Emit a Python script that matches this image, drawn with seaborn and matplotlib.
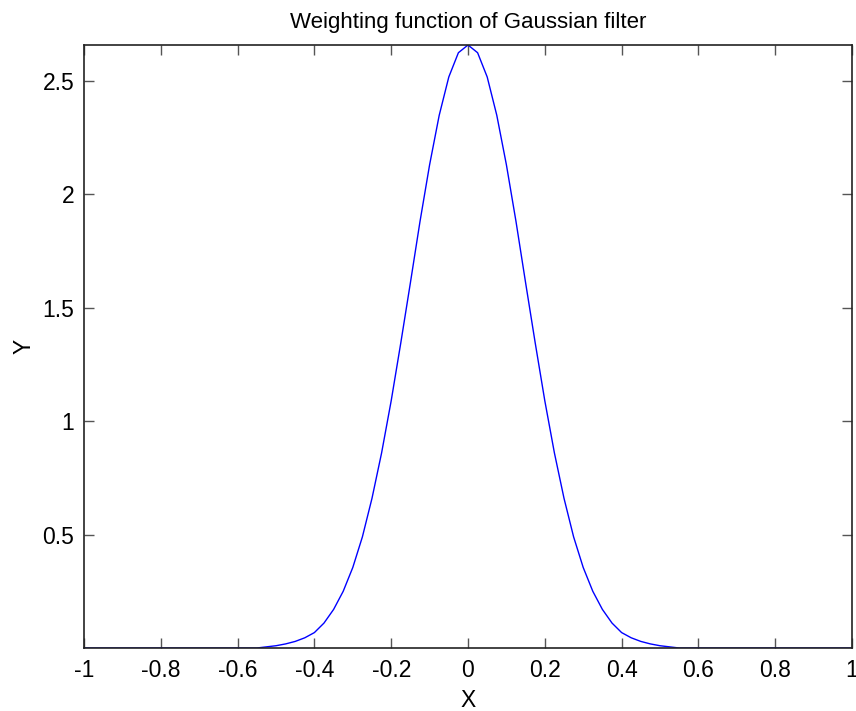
import matplotlib
matplotlib.use("Agg")
import matplotlib.pyplot as plt
import seaborn as sns
import numpy as np
import pandas as pd

# Data (symmetric Gaussian weighting curve)
x_vals = [-1.0, -0.975, -0.95, -0.925, -0.9, -0.875, -0.85, -0.825, -0.8, -0.775,
          -0.75, -0.725, -0.7, -0.675, -0.65, -0.625, -0.6, -0.575, -0.55, -0.525,
          -0.5, -0.475, -0.45, -0.425, -0.4, -0.375, -0.35, -0.325, -0.3, -0.275,
          -0.25, -0.225, -0.2, -0.175, -0.15, -0.125, -0.1, -0.075, -0.05, -0.025,
          0.0,
          0.025, 0.05, 0.075, 0.1, 0.125, 0.15, 0.175, 0.2, 0.225, 0.25,
          0.275, 0.3, 0.325, 0.35, 0.375, 0.4, 0.425, 0.45, 0.475, 0.5,
          0.525, 0.55, 0.575, 0.6, 0.625, 0.65, 0.675, 0.7, 0.725, 0.75,
          0.775, 0.8, 0.825, 0.85, 0.875, 0.9, 0.925, 0.95, 0.975, 1.0]
y_vals = [0, 0, 0, 0, 0, 0, 0, 0, 0, 0,
          0, 0, 0, 0, 0, 0, 0, 0, 0, 0.005,
          0.010, 0.018, 0.029, 0.045, 0.068, 0.110, 0.170, 0.250, 0.355, 0.490,
          0.660, 0.860, 1.090, 1.345, 1.610, 1.880, 2.130, 2.348, 2.517, 2.624,
          2.658,
          2.624, 2.517, 2.348, 2.130, 1.880, 1.610, 1.345, 1.090, 0.860, 0.660,
          0.490, 0.355, 0.250, 0.170, 0.110, 0.068, 0.045, 0.029, 0.018, 0.010,
          0.005, 0, 0, 0, 0, 0, 0, 0, 0, 0,
          0, 0, 0, 0, 0, 0, 0, 0, 0, 0]
x_ticks = [-1, -0.8, -0.6, -0.4, -0.2, 0, 0.2, 0.4, 0.6, 0.8, 1]
x_tick_labels = ["-1", "-0.8", "-0.6", "-0.4", "-0.2", "0", "0.2", "0.4", "0.6", "0.8", "1"]
y_ticks = [0.5, 1, 1.5, 2, 2.5]
y_tick_labels = ["0.5", "1", "1.5", "2", "2.5"]

df = pd.DataFrame({"X": x_vals, "Y": y_vals})

sns.set_theme(style="white")
plt.rcParams["font.family"] = ["Liberation Sans", "DejaVu Sans"]
plt.rcParams["text.color"] = "black"
plt.rcParams["axes.labelcolor"] = "black"

fig = plt.figure(figsize=(8.56, 7.11), dpi=100)
ax = fig.add_axes([84 / 856, 63 / 711, 768 / 856, 603 / 711])

sns.lineplot(data=df, x="X", y="Y", ax=ax, color="#0000ff", linewidth=1.0,
             estimator=None, sort=False)

ax.set_xlim(-1, 1)
ax.set_ylim(0, max(y_vals))
ax.set_xticks(x_ticks)
ax.set_xticklabels(x_tick_labels)
ax.set_yticks(y_ticks)
ax.set_yticklabels(y_tick_labels)

ax.tick_params(direction="in", length=7, width=1, color="#555555",
               top=True, right=True, bottom=True, left=True,
               labelsize=16.5, pad=8, labelcolor="black")
ax.tick_params(axis="y", pad=7)
for side in ["top", "right", "bottom", "left"]:
    ax.spines[side].set_visible(True)
    ax.spines[side].set_color("#222222")
    ax.spines[side].set_linewidth(1.2)

ax.set_xlabel("X", fontsize=16.5, labelpad=5, color="black")
ax.set_ylabel("Y", fontsize=16.5, labelpad=5, color="black")
ax.set_title("Weighting function of Gaussian filter", fontsize=16, pad=12, color="black")

fig.savefig("out.png", dpi=100)
